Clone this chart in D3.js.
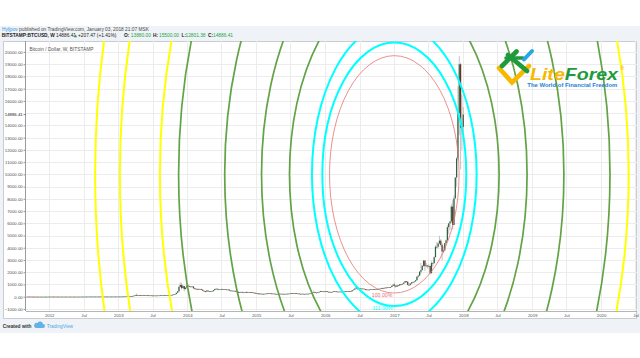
<!DOCTYPE html>
<html><head><meta charset="utf-8">
<script src="https://cdn.jsdelivr.net/npm/d3@7"></script>
<style>
html,body{margin:0;padding:0;background:#fff;}
svg{display:block;font-family:"Liberation Sans",Arial,sans-serif;}
</style></head><body>
<svg id="c" width="640" height="358"></svg>
<script>
// ---------------- DATA ----------------
const firstWeek = "2011-09-05"; // Monday of first weekly bar
const opens = [
7.0,5.9,5.6,5.3,5.1,4.9,4.1,3.3,3.0,3.3,3.0,2.3,2.5,2.9,2.9,3.3,3.9,
4.7,5.3,6.5,6.4,5.9, 5.6,5.8,5.4,4.5, 4.9,4.9,4.9,5.3, 4.8,4.9,4.9,5.1,5.0, 5.0,5.1,5.0,5.1, 5.1,5.4,5.6,6.3, 6.6,6.8,7.7,8.7,8.9, 10.9,11.4,11.6,8.1, 10.6,11.0,11.7,12.4, 12.3,12.0,11.8,11.7,11.0, 10.9,10.9,11.8,12.3, 12.6,13.2,13.3,13.4,13.4,
13.5,13.7,14.2,16.9, 19.6,20.6,24.8,29.8, 31.0,42,47,64, 89,142,90,127,135, 112,117,115,124, 129,108,101,108, 94,76,98,91,96, 104,105,113,114, 124,128,135,126,128, 124,140,158,187, 212,320,440,800, 960,700,870,620,740,
900,850,830,800, 830,680,650,600, 630,630,630,570,480, 450,420,500,430, 440,440,450,530, 630,650,590,600,600, 630,630,620,590, 590,590,500,500, 480,480,480,410,400, 330,380,390,350, 325,370,380,370, 375,370,350,320,315,
275,265,210,255, 225,225,235,245, 255,275,285,260,250, 255,235,225,225, 235,240,235,240, 230,230,233,245,250, 270,290,275,290, 280,265,260,230,230, 240,230,230,235, 240,245,265,280, 325,380,330,325,360, 395,460,440,420,
430,450,385,400, 375,385,405,440,430, 410,415,410,415, 420,420,430,460, 455,460,455,440,525, 580,665,760,660, 675,650,665,655, 625,590,570,580,570, 605,605,605,600, 610,620,640,655,700, 705,700,745,740, 765,775,790,890,
990,905,820,925,915, 1025,1000,1055,1150, 1270,1230,965,965, 1075,1180,1180,1245, 1345,1640,1720,2040,2170, 2520,2950,2500,2550, 2490,2510,1920,2750,2750, 3230,4080,4080,4350, 4580,4230,3690,3780, 4370,4600,5680,5990,6150, 7370,5860,8040,9740, 11300,15000,19000,13800,
13880];
const highs = [
8.0,6.5,6.0,5.7,5.3,5.0,4.3,3.6,3.6,3.5,3.1,2.7,3.1,3.1,3.4,4.0,4.9,
5.5,7.0,7.2,6.6,6.1, 6.2,6.0,5.6,5.1, 5.1,5.4,5.4,5.4, 5.0,5.1,5.2,5.2,5.2, 5.2,5.2,5.2,5.2, 5.5,5.8,6.6,6.8, 7.0,7.9,9.0,9.2,11.0, 11.6,16.4,13.5,10.8, 11.3,11.9,12.9,12.6, 12.6,12.1,12.0,12.0,11.3, 11.2,12.0,12.5,12.9, 13.4,13.6,13.8,13.7,13.8,
14.3,14.6,17.5,20.0, 21.5,25.5,30.0,33.5, 46,48,72,96, 147,266,130,145,137, 124,124,126,133, 130,110,113,110, 99,99,99,98,106, 107,117,115,125, 135,143,135,135,134, 142,160,196,215, 325,450,900,1163, 1150,960,890,780,1000,
1000,900,870,850, 840,700,680,640, 690,650,640,590,500, 480,540,520,460, 450,460,540,640, 670,670,610,610,650, 640,635,630,600, 600,595,520,515, 500,490,480,415,415, 400,400,395,360, 375,450,400,385, 385,375,360,335,330,
300,275,265,260, 245,240,260,265, 285,300,290,265,265, 260,240,235,240, 245,245,245,242, 235,235,255,255,270, 300,300,310,300, 285,270,265,235,245, 245,235,240,245, 250,270,285,330, 500,400,340,375,395, 470,470,450,440,
465,460,420,400, 395,410,445,445,440, 420,420,420,425, 425,432,465,470, 465,465,460,535,590, 700,780,770,700, 705,670,680,660, 630,600,595,585,610, 612,612,610,612, 622,645,665,720,740, 745,750,750,770, 780,795,900,1000,
1150,915,935,930,1030, 1050,1060,1200,1290, 1280,1250,1100,1090, 1200,1220,1260,1350, 1650,1800,2100,2760,2590, 2980,2980,2760,2600, 2650,2560,2900,2810,3300, 4200,4480,4400,4980, 4700,4400,4100,4400, 4650,5850,6000,6200,7600, 7880,8270,9770,11400, 17200,19666,19100,16500,
15500];
const lows = [
5.5,5.0,4.9,4.8,4.6,3.9,3.0,2.6,2.8,2.9,2.0,2.2,2.4,2.7,2.8,3.2,3.8,
4.6,5.2,6.0,5.6,5.3, 5.4,5.1,4.3,4.3, 4.7,4.8,4.8,4.7, 4.8,4.8,4.8,4.9,4.9, 4.9,4.9,4.9,5.0, 5.0,5.3,5.5,6.1, 6.4,6.6,7.6,8.3,8.6, 10.5,7.1,7.6,8.0, 10.4,10.9,11.5,12.0, 11.5,11.6,11.4,10.6,10.6, 10.6,10.8,11.6,12.0, 12.4,12.8,13.1,13.2,13.2,
13.2,13.5,14.1,16.7, 19.2,20.4,24.2,26.0, 30,40,46,62, 88,50,78,115,106, 100,110,113,117, 107,99,95,89, 65,72,85,88,93, 99,103,108,112, 118,124,119,120,118, 120,137,156,182, 205,295,360,750, 580,700,455,600,720,
840,800,780,790, 670,580,590,590, 620,610,560,470,440, 340,410,420,425, 430,430,440,520, 610,560,560,585,590, 610,610,580,580, 575,480,470,470, 470,470,400,385,320, 310,360,340,320, 320,365,360,365, 360,340,310,310,270,
260,165,210,215, 210,215,230,235, 250,270,255,240,240, 230,220,215,220, 230,230,232,228, 222,225,230,240,250, 265,275,270,275, 260,255,200,210,225, 225,225,225,232, 235,245,260,280, 320,300,310,315,355, 385,430,410,415,
425,375,370,365, 365,375,400,420,405, 405,405,405,412, 412,415,430,445, 445,450,435,440,520, 570,660,550,625, 640,645,650,620, 510,560,565,565,570, 600,600,590,595, 605,615,635,650,690, 680,700,715,730, 750,765,785,885,
755,750,820,880,910, 960,980,1050,1150, 1120,940,890,920, 1050,1150,1170,1240, 1340,1560,1700,1850,2150, 2450,2100,2400,2300, 2400,1830,1910,2460,2650, 3200,3950,3950,4300, 4100,2970,3550,3700, 4150,4540,5100,5440,6030, 5500,5850,8000,9000, 11130,13200,10400,12000,
12801.38];
const closes = [
5.9,5.6,5.3,5.1,4.9,4.1,3.3,3.0,3.3,3.0,2.3,2.5,2.9,2.9,3.3,3.9,4.7,
5.3,6.5,6.4,5.9,5.6, 5.8,5.4,4.5,4.9, 4.9,4.9,5.3,4.8, 4.9,4.9,5.1,5.0,5.0, 5.1,5.0,5.1,5.1, 5.4,5.6,6.3,6.6, 6.8,7.7,8.7,8.9,10.9, 11.4,11.6,8.1,10.6, 11.0,11.7,12.4,12.3, 12.0,11.8,11.7,11.0,10.9, 10.9,11.8,12.3,12.6, 13.2,13.3,13.4,13.4,13.5,
13.7,14.2,16.9,19.6, 20.6,24.8,29.8,31.0, 42,47,64,89, 142,90,127,135,112, 117,115,124,129, 108,101,108,94, 76,98,91,96,104, 105,113,114,124, 128,135,126,128,124, 140,158,187,212, 320,440,800,960, 700,870,620,740,900,
850,830,800,830, 680,650,600,630, 630,630,570,480,450, 420,500,430,440, 440,450,530,630, 650,590,600,600,630, 630,620,590,590, 590,500,500,480, 480,480,410,400,330, 380,390,350,325, 370,380,370,375, 370,350,320,315,275,
265,210,255,225, 225,235,245,255, 275,285,260,250,255, 235,225,225,235, 240,235,240,230, 230,233,245,250,270, 290,275,290,280, 265,260,230,230,240, 230,230,235,240, 245,265,280,325, 380,330,325,360,395, 460,440,420,430,
450,385,400,375, 385,405,440,430,410, 415,410,415,420, 420,430,460,455, 460,455,440,525,580, 665,760,660,675, 650,665,655,625, 590,570,580,570,605, 605,605,600,610, 620,640,655,700,705, 700,745,740,765, 775,790,890,990,
905,820,925,915,1025, 1000,1055,1150,1270, 1230,965,965,1075, 1180,1180,1245,1345, 1640,1720,2040,2170,2520, 2950,2500,2550,2490, 2510,1920,2750,2750,3230, 4080,4080,4350,4580, 4230,3690,3780,4370, 4600,5680,5990,6150,7370, 5860,8040,9740,11300, 15000,19000,13800,13880,
14886.41];

const lastPrice = 14886.41;
const yTickValues = [-1000,0,1000,2000,3000,4000,5000,6000,7000,8000,9000,10000,11000,12000,13000,14000,15000,16000,17000,18000,19000,20000];
const xTickDates = ["2012-01-01","2012-07-01","2013-01-01","2013-07-01","2014-01-01","2014-07-01","2015-01-01","2015-07-01","2016-01-01","2016-07-01","2017-01-01","2017-07-01","2018-01-01","2018-07-01","2019-01-01","2019-07-01","2020-01-01","2020-07-01"];
const xTickLabels = ["2012","Jul","2013","Jul","2014","Jul","2015","Jul","2016","Jul","2017","Jul","2018","Jul","2019","Jul","2020","Jul"];
const xDomainDates = ["2011-08-31","2020-07-09"];
const yDomainValues = [-1169, 20899];

// Fib circles (ellipses): centre, unit radii (time in days, price) and levels
const fibCenterDate = "2017-01-01";
const fibCenterPrice = 10000;
const fibUnitDays = 343;
const fibUnitPrice = 9700;
const fibLevels = [1, 1.11, 1.272, 1.618, 2.05, 2.618, 3.33, 3.618, 4.236, 4.618];
const fibLabels = ["100.00%","111.00%","127.20%","161.80%","205.00%","261.80%","333.00%","361.80%","423.60%","461.80%"];

// ---------------- STYLE ----------------
const fibColor = l => l === 1 ? "#e57373" : (l < 1.5 ? "#00ffff" : (l < 3.5 ? "#62a345" : "#ffff00"));
const fibWidth = l => l === 1 ? 0.8 : (l < 1.5 ? 2 : (l < 3.5 ? 1.7 : 2));

// ---------------- DRAW ----------------
const svg = d3.select("#c");
const P = {l:26, r:637, t:41, b:311};
const parse = d3.utcParse("%Y-%m-%d");
const x = d3.scaleUtc().domain(xDomainDates.map(parse)).range([P.l, P.r]);
const y = d3.scaleLinear().domain(yDomainValues).range([P.b, P.t]);

// background bands
svg.append("rect").attr("x",0).attr("y",0).attr("width",640).attr("height",358).attr("fill","#ffffff");
svg.append("rect").attr("x",0).attr("y",26).attr("width",640).attr("height",307).attr("fill","#eff2f6");
svg.append("rect").attr("x",3.5).attr("y",41.5).attr("width",633).attr("height",277).attr("fill","#ffffff").attr("stroke","#c9ccd1");

// header text
const h1 = svg.append("text").attr("x",2).attr("y",30.8).attr("font-size",4.8).attr("fill","#4a4a4a");
h1.append("tspan").attr("fill","#2e9be6").text("Hyljpov");
h1.append("tspan").text(" published on TradingView.com, January 03, 2018 21:07 MSK");
const h2 = svg.append("g").attr("font-size",4.8);
const seg = (tx, t, c, bold) => h2.append("text").attr("x",tx).attr("y",37.4).attr("fill",c).attr("font-weight",bold?"bold":"normal").text(t);
seg(1.8,"BITSTAMP:BTCUSD, W","#222",true);
seg(56,d3.format(".2f")(lastPrice),"#222",false);
h2.append("path").attr("d","M74,37.3 L75.6,34.4 L77.2,37.3 Z").attr("fill","#22a64a");
seg(78,"+207.47 (+1.41%)","#222",false);
seg(124,"O:","#222",true); seg(130.8,d3.format(".2f")(opens[opens.length-1]),"#22a64a",false);
seg(153,"H:","#222",true); seg(159,d3.format(".2f")(highs[highs.length-1]),"#22a64a",false);
seg(181.5,"L:","#222",true); seg(185.5,d3.format(".2f")(lows[lows.length-1]),"#22a64a",false);
seg(208,"C:","#222",true); seg(213,d3.format(".2f")(closes[closes.length-1]),"#22a64a",false);

// clip
svg.append("clipPath").attr("id","pc").append("rect").attr("x",P.l).attr("y",P.t).attr("width",P.r-P.l).attr("height",P.b-P.t);
const plot = svg.append("g").attr("clip-path","url(#pc)");

// grid
plot.selectAll("line.hg").data(yTickValues).join("line").attr("class","hg")
  .attr("x1",P.l).attr("x2",P.r).attr("y1",d=>Math.round(y(d))+0.5).attr("y2",d=>Math.round(y(d))+0.5)
  .attr("stroke","#ececec").attr("stroke-width",1);
plot.selectAll("line.vg").data(xTickDates).join("line").attr("class","vg")
  .attr("y1",P.t).attr("y2",P.b).attr("x1",d=>Math.round(x(parse(d)))+0.5).attr("x2",d=>Math.round(x(parse(d)))+0.5)
  .attr("stroke","#ececec").attr("stroke-width",1);

// candles
const t0 = parse(firstWeek);
const n = Math.min(opens.length, highs.length, lows.length, closes.length);
const bars = d3.range(n).map(i => ({date: d3.utcDay.offset(t0, 7*i), o:opens[i], h:highs[i], l:lows[i], c:closes[i]}));
const cg = plot.append("g");
cg.selectAll("line.w").data(bars).join("line")
  .attr("x1",d=>x(d.date)).attr("x2",d=>x(d.date))
  .attr("y1",d=>y(d.h)).attr("y2",d=>y(d.l))
  .attr("stroke","#a9a9a9").attr("stroke-width",0.7);
cg.selectAll("rect.b").data(bars).join("rect")
  .attr("x",d=>x(d.date)-0.6).attr("width",1.2)
  .attr("y",d=>y(Math.max(d.o,d.c)))
  .attr("height",d=>Math.max(0.7, Math.abs(y(d.o)-y(d.c))))
  .attr("fill",d=>d.c>=d.o ? "#2f5f3f" : "#6b3328");

// fib ellipses
const cx = x(parse(fibCenterDate)), cy = y(fibCenterPrice);
const fg = plot.append("g");
fibLevels.forEach((l,i) => {
  const rx = x(d3.utcDay.offset(parse(fibCenterDate), Math.round(fibUnitDays*l))) - cx;
  const ry = y(fibCenterPrice - fibUnitPrice*l) - cy;
  fg.append("ellipse").attr("cx",cx).attr("cy",cy).attr("rx",rx).attr("ry",ry)
    .attr("fill","none").attr("stroke",fibColor(l)).attr("stroke-width",fibWidth(l));
  const ty = cy + ry + 3.6;
  if (ty < P.b + 1) {
    fg.append("text").attr("x",cx-2).attr("y",ty).attr("text-anchor","end")
      .attr("font-size",5.2).attr("fill",fibColor(l)).text(fibLabels[i]);
  }
});

// legend text
svg.append("text").attr("x",29.5).attr("y",50.6).attr("font-size",4.8).attr("fill","#555").text("Bitcoin / Dollar, W, BITSTAMP");

// y axis
const ya = svg.append("g").attr("transform","translate(25.5,0)")
  .call(d3.axisLeft(y).tickValues(yTickValues).tickFormat(d3.format(".2f")).tickSize(2).tickPadding(0.8));
ya.select(".domain").attr("stroke","#9a9a9a").attr("d",`M0,${P.t}V${P.b}`);
ya.selectAll(".tick line").attr("stroke","#9a9a9a");
ya.selectAll("text").attr("font-size",4.3).attr("fill","#4d4d4d").attr("font-family","Liberation Sans, Arial, sans-serif");
// last price label
const ly = y(lastPrice);
svg.append("rect").attr("x",4).attr("y",ly-3).attr("width",21).attr("height",6).attr("fill","#ffffff");
svg.append("text").attr("x",22.7).attr("y",ly).attr("dy","0.33em").attr("text-anchor","end").attr("font-size",4.3).attr("fill","#111").text(d3.format(".2f")(lastPrice));
svg.append("line").attr("x1",23.5).attr("x2",25.5).attr("y1",ly).attr("y2",ly).attr("stroke","#333").attr("stroke-width",0.6);

// x axis
const xa = svg.append("g").attr("transform",`translate(0,${P.b})`)
  .call(d3.axisBottom(x).tickValues(xTickDates.map(parse)).tickFormat((d,i)=>xTickLabels[i]).tickSize(0).tickPadding(2.6));
xa.select(".domain").attr("stroke","#b5b5b5").attr("d",`M${P.l},0.5H${P.r}`);
xa.selectAll("text").attr("font-size",4.3).attr("fill","#4d4d4d").attr("font-family","Liberation Sans, Arial, sans-serif");

// footer
svg.append("text").attr("x",2.7).attr("y",327.7).attr("font-size",4.8).attr("font-weight","bold").attr("fill","#333").text("Created with");
svg.append("path").attr("d","M36,328 h7 a2,2 0 0 0 0,-4 a3,3 0 0 0 -5.5,-1 a2.2,2.2 0 0 0 -1.5,5 z").attr("fill","#5fb3e8");
svg.append("text").attr("x",46.7).attr("y",327.7).attr("font-size",4.8).attr("fill","#4aa8e6").text("TradingView");

// LiteForex logo
const lg = svg.append("g");
lg.append("path").attr("d","M499,68 L512,82.5 L529,66").attr("fill","none").attr("stroke","#f6b800").attr("stroke-width",4.6).attr("stroke-linecap","round");
lg.append("path").attr("d","M502,66 L516.5,51.5").attr("fill","none").attr("stroke","#1f9a3c").attr("stroke-width",4.6).attr("stroke-linecap","round");
lg.append("path").attr("d","M508,55 L527,71").attr("fill","none").attr("stroke","#1f9a3c").attr("stroke-width",4.6).attr("stroke-linecap","round");
lg.append("path").attr("d","M506,58 L523,58").attr("fill","none").attr("stroke","#1f9a3c").attr("stroke-width",3.6).attr("stroke-linecap","round");
lg.append("path").attr("d","M524,59.5 L532,51").attr("fill","none").attr("stroke","#29a6e6").attr("stroke-width",4).attr("stroke-linecap","round");
const lt = lg.append("text").attr("x",530).attr("y",79.8).attr("font-size",16.5).attr("font-weight","bold").attr("font-style","italic")
  .attr("textLength",88).attr("lengthAdjust","spacingAndGlyphs");
lt.append("tspan").attr("fill","#f6b800").text("Lite");
lt.append("tspan").attr("fill","#1f9a3c").text("Forex");
lg.append("text").attr("x",620.5).attr("y",69.5).attr("font-size",5).attr("fill","#f08a24").text("®");
lg.append("text").attr("x",527.3).attr("y",86.6).attr("font-size",4.8).attr("font-weight","bold").attr("fill","#1e80d8")
  .attr("textLength",90).attr("lengthAdjust","spacingAndGlyphs").text("The World of Financial Freedom");
</script>
</body></html>
